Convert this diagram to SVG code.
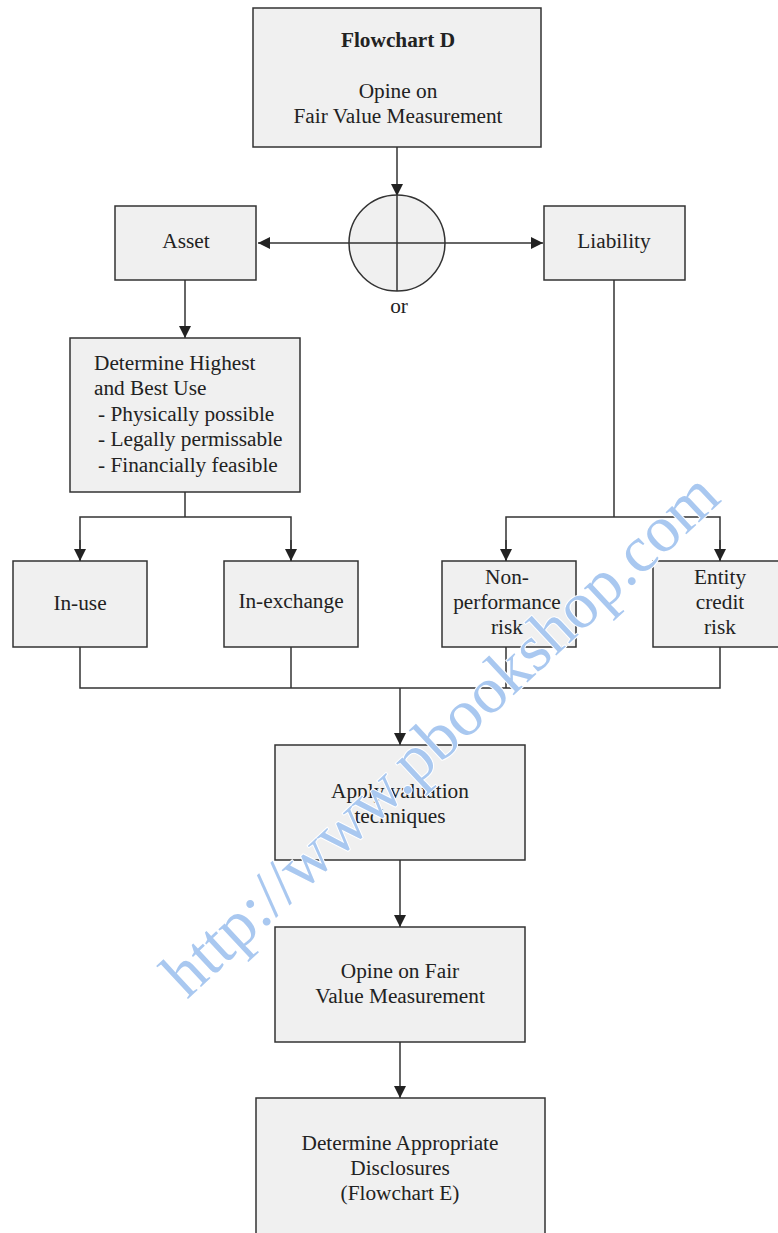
<svg xmlns="http://www.w3.org/2000/svg" width="778" height="1233" viewBox="0 0 778 1233">
  <defs>
    <style>
      .box { fill: #f0f0f0; stroke: #333; stroke-width: 1.5; }
      .ln { fill: none; stroke: #333; stroke-width: 1.5; }
      .t { font-family: "Liberation Serif", "Times New Roman", serif; font-size: 21.3px; fill: #222; text-anchor: middle; }
      .tl { text-anchor: start; }
      .b { font-weight: bold; }
      .wm { font-family: "Liberation Serif", "Times New Roman", serif; font-size: 66px; fill: #a9c8f0; stroke: #fff; stroke-width: 2; paint-order: stroke; }
    </style>
    <marker id="arr" viewBox="0 0 12 12" refX="12" refY="6" markerWidth="12" markerHeight="12" markerUnits="userSpaceOnUse" orient="auto">
      <path d="M0,0 L12,6 L0,12 Z" fill="#222"/>
    </marker>
  </defs>
  <rect width="778" height="1233" fill="#fff"/>

  <!-- connectors -->
  <g id="connectors">
    <path class="ln" d="M397,147 V196" marker-end="url(#arr)"/>
    <path class="ln" d="M349,243 H258" marker-end="url(#arr)"/>
    <path class="ln" d="M445,243 H543" marker-end="url(#arr)"/>
    <path class="ln" d="M185,280 V338" marker-end="url(#arr)"/>
    <path class="ln" d="M185,492 V517"/>
    <path class="ln" d="M80,561 V517 H291 V561" />
    <path class="ln" d="M80,540 V561" marker-end="url(#arr)"/>
    <path class="ln" d="M291,540 V561" marker-end="url(#arr)"/>
    <path class="ln" d="M614,280 V517"/>
    <path class="ln" d="M506,561 V517 H720 V561"/>
    <path class="ln" d="M506,540 V561" marker-end="url(#arr)"/>
    <path class="ln" d="M720,540 V561" marker-end="url(#arr)"/>
    <path class="ln" d="M80,647 V688 H720 V647"/>
    <path class="ln" d="M291,647 V688"/>
    <path class="ln" d="M506,647 V688"/>
    <path class="ln" d="M400,688 V745" marker-end="url(#arr)"/>
    <path class="ln" d="M400,860 V927" marker-end="url(#arr)"/>
    <path class="ln" d="M400,1042 V1098" marker-end="url(#arr)"/>
  </g>

  <g id="start">
    <rect class="box" x="253" y="8" width="288" height="139"/>
    <text class="t b" x="398" y="47">Flowchart D</text>
    <text class="t" x="398" y="98">Opine on</text>
    <text class="t" x="398" y="123">Fair Value Measurement</text>
  </g>

  <g id="or-junction">
    <circle cx="397" cy="243" r="48" fill="#f0f0f0" stroke="#333" stroke-width="1.5"/>
    <path class="ln" d="M397,195 V291 M349,243 H445"/>
    <text class="t" x="399" y="313">or</text>
  </g>

  <g id="asset">
    <rect class="box" x="115" y="206" width="141" height="74"/>
    <text class="t" x="186" y="248">Asset</text>
  </g>

  <g id="liability">
    <rect class="box" x="544" y="206" width="141" height="74"/>
    <text class="t" x="614" y="248">Liability</text>
  </g>

  <g id="highest-best-use">
    <rect class="box" x="70" y="338" width="230" height="154"/>
    <text class="t tl" x="94" y="370">Determine Highest</text>
    <text class="t tl" x="94" y="395">and Best Use</text>
    <text class="t tl" x="98" y="421">-  Physically possible</text>
    <text class="t tl" x="98" y="446">-  Legally permissable</text>
    <text class="t tl" x="98" y="472">-  Financially feasible</text>
  </g>

  <g id="in-use">
    <rect class="box" x="13" y="561" width="134" height="86"/>
    <text class="t" x="80" y="610">In-use</text>
  </g>

  <g id="in-exchange">
    <rect class="box" x="224" y="561" width="134" height="86"/>
    <text class="t" x="291" y="608">In-exchange</text>
  </g>

  <g id="non-performance">
    <rect class="box" x="442" y="561" width="134" height="86"/>
    <text class="t" x="507" y="584">Non-</text>
    <text class="t" x="507" y="609">performance</text>
    <text class="t" x="507" y="634">risk</text>
  </g>

  <g id="entity-credit">
    <rect class="box" x="653" y="561" width="134" height="86"/>
    <text class="t" x="720" y="584">Entity</text>
    <text class="t" x="720" y="609">credit</text>
    <text class="t" x="720" y="634">risk</text>
  </g>

  <g id="valuation">
    <rect class="box" x="275" y="745" width="250" height="115"/>
    <text class="t" x="400" y="798">Apply valuation</text>
    <text class="t" x="400" y="823">techniques</text>
  </g>

  <g id="opine">
    <rect class="box" x="275" y="927" width="250" height="115"/>
    <text class="t" x="400" y="978">Opine on Fair</text>
    <text class="t" x="400" y="1003">Value Measurement</text>
  </g>

  <g id="disclosures">
    <rect class="box" x="256" y="1098" width="289" height="150"/>
    <text class="t" x="400" y="1150">Determine Appropriate</text>
    <text class="t" x="400" y="1175">Disclosures</text>
    <text class="t" x="400" y="1200">(Flowchart E)</text>
  </g>

  <text class="wm" transform="translate(187,1000) rotate(-43)">http://www.pbookshop.com</text>
</svg>
